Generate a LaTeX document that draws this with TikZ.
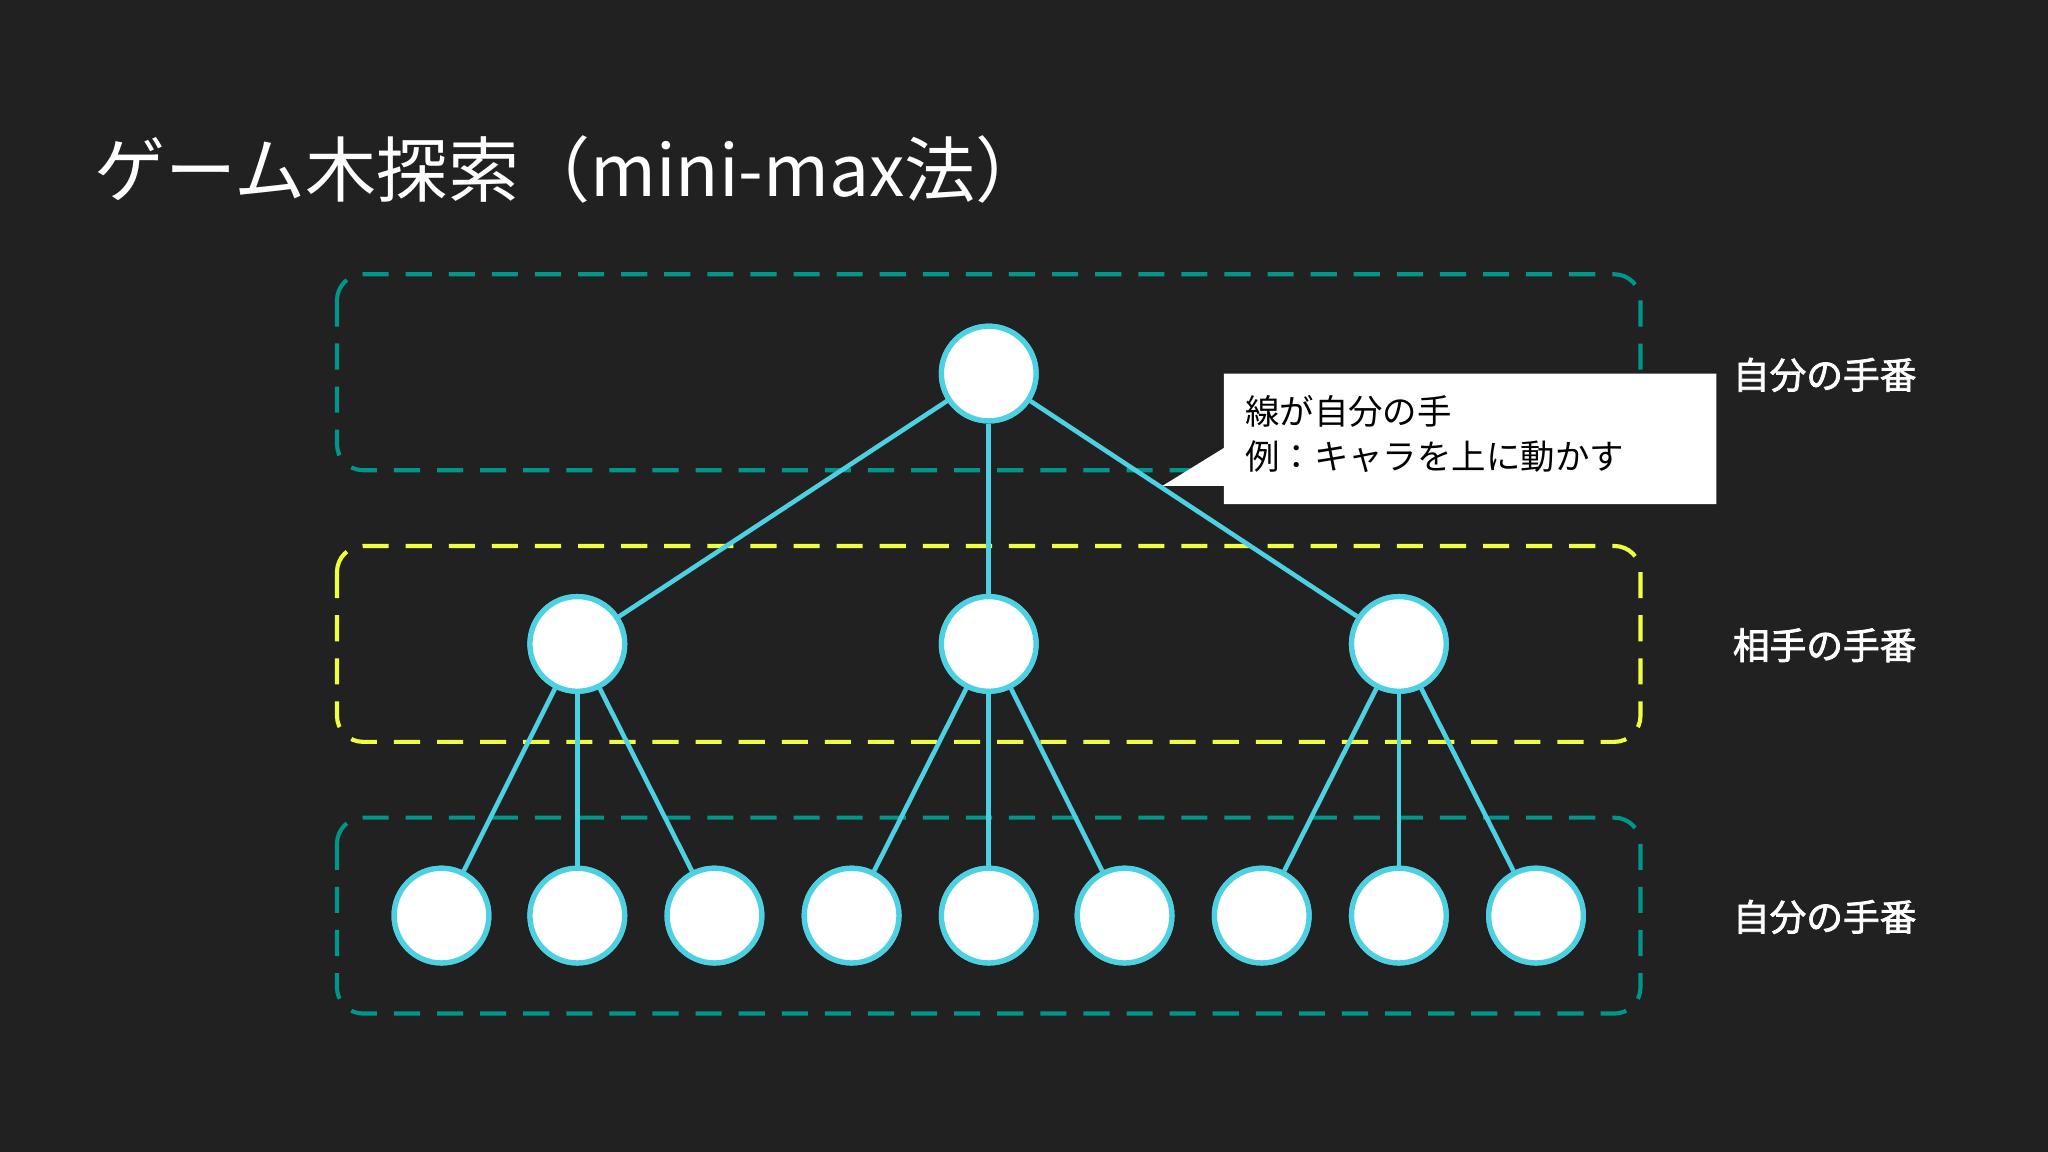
\documentclass[tikz,border=0pt]{standalone}
\usepackage{fontspec}
\setmainfont{Noto Sans CJK JP}
\newfontfamily\jpbold{Noto Sans CJK JP}[FakeBold=2]
\begin{document}
\begin{tikzpicture}[x=0.02cm,y=-0.02cm,
  gnode/.style={circle,fill=white,draw=cyanl,line width=2.3pt,minimum size=1.45cm,inner sep=0pt},
  edge/.style={draw=cyanl,line width=2pt},
  layerbox/.style={dash pattern=on 0.4cm off 0.26cm,line width=1.8pt,rounded corners=0.4cm},
  turn/.style={text=white,font=\jpbold\fontsize{16}{18}\selectfont}]
\definecolor{bg}{HTML}{212121}
\definecolor{cyanl}{HTML}{4DD0E1}
\definecolor{tealb}{HTML}{00968A}
\definecolor{yell}{HTML}{EEFF41}
\fill[bg] (0,0) rectangle (1568,882);
\useasboundingbox (0,0) rectangle (1568,882);
\node[anchor=west,text=white,font=\fontsize{31}{36}\selectfont,inner sep=0pt] (title) at (72,130) {ゲーム木探索（mini-max法）};
\draw[layerbox,tealb] (258,210) rectangle (1256,360);
\draw[layerbox,yell] (258,418) rectangle (1256,568);
\draw[layerbox,tealb] (258,626) rectangle (1256,776);
\node[gnode] (r) at (757,286) {};
\node[gnode] (m1) at (442,493) {};
\node[gnode] (m2) at (757,493) {};
\node[gnode] (m3) at (1071,493) {};
\foreach \i/\x in {1/338,2/442,3/547,4/652,5/757,6/861,7/966,8/1071,9/1176}
  \node[gnode] (l\i) at (\x,701) {};
\foreach \m in {m1,m2,m3} \draw[edge] (r) -- (\m);
\draw[edge] (m1) -- (l1); \draw[edge] (m1) -- (l2); \draw[edge] (m1) -- (l3);
\draw[edge] (m2) -- (l4); \draw[edge] (m2) -- (l5); \draw[edge] (m2) -- (l6);
\draw[edge] (m3) -- (l7); \draw[edge] (m3) -- (l8); \draw[edge] (m3) -- (l9);
\foreach \m in {r,m1,m2,m3} \node[gnode] at (\m) {};
\foreach \i in {1,...,9} \node[gnode] at (l\i) {};
\fill[white] (937,286) -- (1314,286) -- (1314,386) -- (937,386) -- (937,372) -- (890,372) -- (937,343) -- cycle;
\node[anchor=north west,align=left,text=black,font=\fontsize{15}{20}\selectfont,inner sep=0pt] (call) at (953,302) {線が自分の手\\例：キャラを上に動かす};
\node[turn] (t1) at (1397,287) {自分の手番};
\node[turn] (t2) at (1397,494) {相手の手番};
\node[turn] (t3) at (1397,702) {自分の手番};
\end{tikzpicture}
\end{document}
